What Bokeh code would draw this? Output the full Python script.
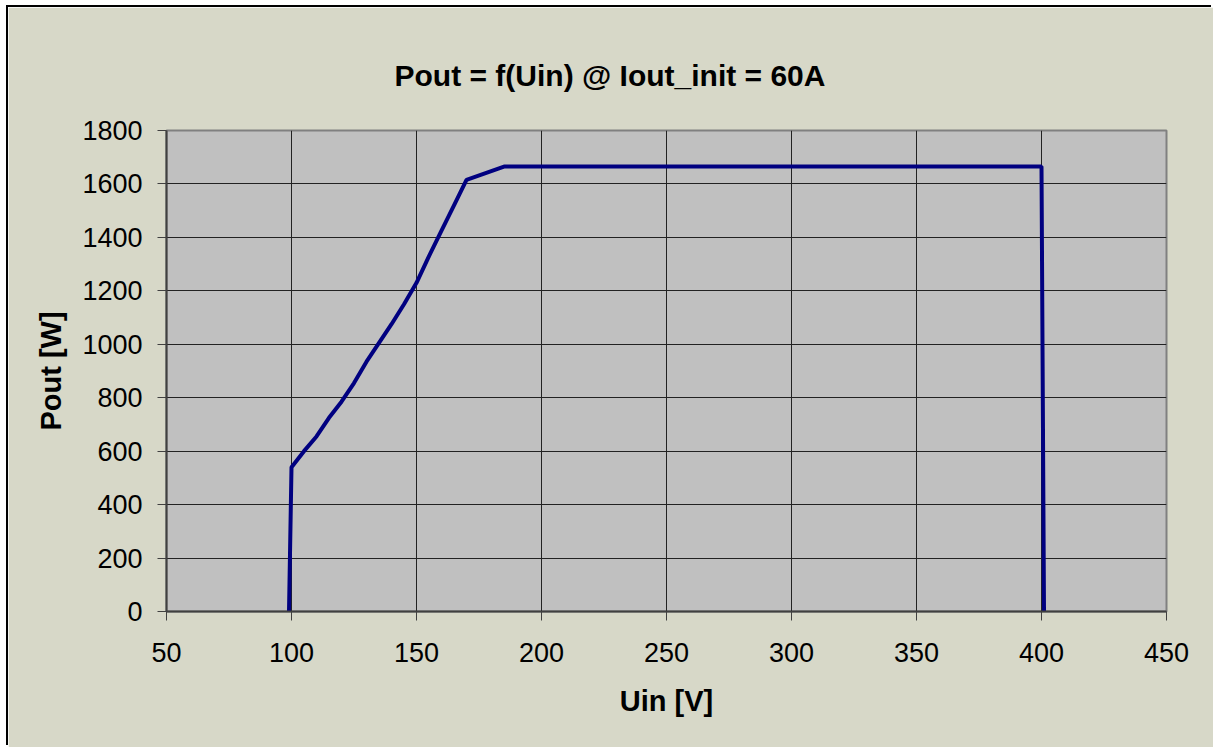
from bokeh.plotting import figure
from bokeh.models import Range1d, FixedTicker
from bokeh.embed import file_html
from bokeh.resources import INLINE

# Data
uin = [99, 100, 105, 110, 115, 120, 125, 130, 135, 140, 145, 150, 155, 160, 165, 170, 185, 400, 401]
pout = [0, 540, 600, 655, 725, 785, 855, 935, 1005, 1075, 1150, 1230, 1330, 1425, 1520, 1615, 1665, 1665, 0]
x_ticks = [50, 100, 150, 200, 250, 300, 350, 400, 450]
y_ticks = [0, 200, 400, 600, 800, 1000, 1200, 1400, 1600, 1800]
title_text = "Pout = f(Uin)  @ Iout_init = 60A"
x_label = "Uin [V]"
y_label = "Pout [W]"

FONT = "Liberation Sans"
BG = "#D7D8C8"

p = figure(width=1205, height=740, output_backend="svg", toolbar_location=None,
           x_range=Range1d(50, 450), y_range=Range1d(0, 1800),
           min_border_left=158, min_border_right=47, min_border_top=123, min_border_bottom=136)
p.styles = {"margin-left": "8px", "margin-top": "7px", "box-shadow": "-2px -2px 0px 0px #000000"}
p.background_fill_color = "#C0C0C0"
p.border_fill_color = BG
p.outline_line_color = "#808080"
p.outline_line_width = 2

p.title.text = title_text
p.title.text_font = FONT
p.title.text_font_size = "30px"
p.title.text_font_style = "bold"
p.title.text_color = "#000000"
p.title.align = "left"
p.title.offset = 228
p.title.vertical_align = "top"
p.title.standoff = 74

p.line(uin, pout, line_color="#000080", line_width=4)

for ax in (p.xaxis[0], p.yaxis[0]):
    ax.axis_line_color = "#404040"
    ax.axis_line_width = 2
    ax.major_tick_line_color = "#404040"
    ax.major_tick_line_width = 1
    ax.major_tick_out = 9
    ax.major_tick_in = 0
    ax.minor_tick_line_color = None
    ax.major_label_text_font = FONT
    ax.major_label_text_font_size = "27px"
    ax.major_label_text_color = "#000000"
    ax.axis_label_text_font = FONT
    ax.axis_label_text_font_size = "29px"
    ax.axis_label_text_font_style = "bold"
    ax.axis_label_text_color = "#000000"

p.xaxis[0].ticker = FixedTicker(ticks=x_ticks)
p.yaxis[0].ticker = FixedTicker(ticks=y_ticks)
p.xaxis[0].axis_label = x_label
p.yaxis[0].axis_label = y_label
p.xaxis[0].major_label_standoff = 22
p.yaxis[0].major_label_standoff = 15
p.xaxis[0].axis_label_standoff = 20
p.yaxis[0].axis_label_standoff = 12

p.xgrid[0].ticker = FixedTicker(ticks=x_ticks)
p.ygrid[0].ticker = FixedTicker(ticks=y_ticks)
p.xgrid.grid_line_color = "#222222"
p.ygrid.grid_line_color = "#222222"
p.xgrid.grid_line_width = 1
p.ygrid.grid_line_width = 1

open("out.html", "w").write(file_html(p, INLINE))
